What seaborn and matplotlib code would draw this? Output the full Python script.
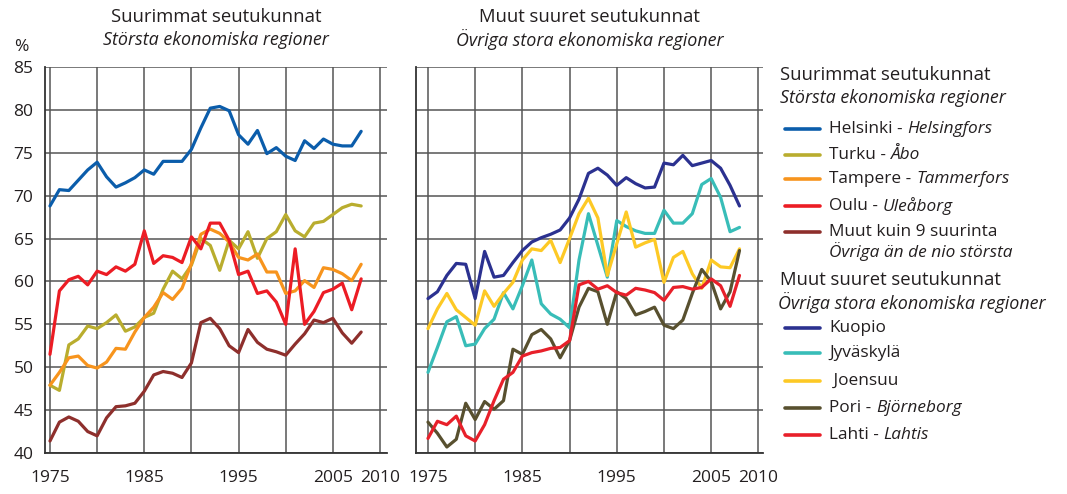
import numpy as np
import pandas as pd
import matplotlib.pyplot as plt
from matplotlib.lines import Line2D
import seaborn as sns

# Years 1975-2008, values in %
years = list(range(1975, 2009))

# Suurimmat seutukunnat
helsinki = [68.8, 70.7, 70.6, 71.8, 73.0, 73.9, 72.2, 71.0, 71.5, 72.1,
            73.0, 72.5, 74.0, 74.0, 74.0, 75.4, 77.9, 80.2, 80.4, 79.9,
            77.1, 76.0, 77.6, 74.9, 75.6, 74.6, 74.1, 76.4, 75.5, 76.6,
            76.0, 75.8, 75.8, 77.5]
turku = [47.9, 47.3, 52.6, 53.3, 54.8, 54.5, 55.2, 56.1, 54.2, 54.7,
         55.8, 56.3, 59.1, 61.2, 60.3, 61.9, 65.0, 64.2, 61.3, 64.8,
         63.8, 65.8, 62.7, 65.0, 65.8, 67.8, 65.9, 65.2, 66.8, 67.0,
         67.8, 68.6, 69.0, 68.8]
tampere = [47.9, 49.4, 51.1, 51.3, 50.2, 49.9, 50.6, 52.2, 52.1, 54.1,
           55.8, 57.0, 58.7, 57.9, 59.2, 62.1, 65.5, 66.1, 65.6, 64.6,
           62.8, 62.5, 63.2, 61.1, 61.1, 58.6, 58.9, 60.1, 59.3, 61.6,
           61.4, 60.9, 60.1, 62.0]
oulu = [51.5, 58.9, 60.2, 60.6, 59.6, 61.2, 60.8, 61.7, 61.2, 62.0,
        65.9, 62.1, 63.0, 62.8, 62.2, 65.2, 63.8, 66.8, 66.8, 64.8,
        60.8, 61.2, 58.6, 58.9, 57.6, 55.0, 63.8, 55.0, 56.5, 58.7,
        59.1, 59.8, 56.7, 60.3]
muut9 = [41.4, 43.6, 44.2, 43.7, 42.5, 42.0, 44.1, 45.4, 45.5, 45.8,
         47.2, 49.1, 49.5, 49.3, 48.8, 50.5, 55.2, 55.7, 54.5, 52.5,
         51.7, 54.4, 52.9, 52.1, 51.8, 51.4, 52.7, 53.9, 55.5, 55.2,
         55.7, 54.0, 52.8, 54.1]

# Muut suuret seutukunnat
kuopio = [58.0, 58.8, 60.7, 62.1, 62.0, 58.0, 63.5, 60.5, 60.7, 62.2,
          63.6, 64.6, 65.1, 65.5, 66.0, 67.4, 69.6, 72.6, 73.2, 72.4,
          71.2, 72.1, 71.4, 70.9, 71.0, 73.8, 73.6, 74.7, 73.5, 73.8,
          74.1, 73.2, 71.2, 68.8]
jyvaskyla = [49.4, 52.3, 55.3, 55.9, 52.5, 52.7, 54.5, 55.6, 58.7, 56.8,
             59.5, 62.5, 57.4, 56.2, 55.6, 54.6, 62.5, 67.9, 64.2, 60.5,
             67.1, 66.4, 65.9, 65.6, 65.6, 68.3, 66.8, 66.8, 67.9, 71.3,
             72.0, 69.8, 65.8, 66.3]
joensuu = [54.5, 56.8, 58.6, 56.7, 55.8, 54.9, 58.9, 57.1, 58.6, 59.9,
           62.5, 63.8, 63.6, 64.8, 62.2, 65.0, 67.9, 69.7, 67.4, 60.7,
           64.4, 68.1, 64.0, 64.5, 64.9, 59.9, 62.8, 63.5, 60.9, 59.2,
           62.5, 61.7, 61.6, 63.8]
pori = [43.6, 42.3, 40.7, 41.6, 45.8, 43.9, 46.0, 45.1, 46.1, 52.1,
        51.5, 53.8, 54.4, 53.3, 51.1, 53.1, 57.0, 59.2, 58.8, 55.0,
        58.8, 58.0, 56.1, 56.5, 57.0, 54.9, 54.5, 55.5, 58.6, 61.4,
        60.0, 56.8, 58.8, 63.6]
lahti = [41.7, 43.7, 43.3, 44.3, 42.0, 41.4, 43.3, 46.1, 48.6, 49.4,
         51.3, 51.7, 51.9, 52.2, 52.3, 53.1, 59.6, 60.0, 59.1, 59.5,
         58.7, 58.4, 59.2, 59.0, 58.7, 57.8, 59.3, 59.4, 59.1, 59.3,
         60.3, 59.5, 57.1, 60.7]

left_names = ['Helsinki', 'Turku', 'Tampere', 'Oulu', 'Muut kuin 9 suurinta']
left_values = [helsinki, turku, tampere, oulu, muut9]
left_colors = ['#0b5dab', '#b9ad2e', '#f7941d', '#ec1c24', '#8e2f2c']
left_labels = [('Helsinki -', 'Helsingfors'), ('Turku -', 'Åbo'),
               ('Tampere -', 'Tammerfors'), ('Oulu -', 'Uleåborg'),
               ('Muut kuin 9 suurinta', None)]

right_names = ['Kuopio', 'Jyväskylä', 'Joensuu', 'Pori', 'Lahti']
right_values = [kuopio, jyvaskyla, joensuu, pori, lahti]
right_colors = ['#2b3190', '#38bdb8', '#fdc925', '#58502f', '#e8202a']
right_labels = [('Kuopio', None), ('Jyväskylä', None), (' Joensuu', None),
                ('Pori -', 'Björneborg'), ('Lahti -', 'Lahtis')]

sns.set_theme(style='white')
plt.rcParams['font.family'] = ['Open Sans', 'DejaVu Sans']
TXT = '#231f20'
HEAD = 13.3      # normal heading size
HEAD_IT = 12.9   # italic heading size
ENTRY = 12.4     # legend entry size

W, H = 1067, 494
fig = plt.figure(figsize=(W / 100, H / 100), dpi=100)

# axes placed in pixel terms of the reference
ax1 = fig.add_axes([44.7 / W, 1 - 453 / H, (387 - 44.7) / W, (453 - 67) / H])
ax2 = fig.add_axes([415.7 / W, 1 - 453 / H, (763 - 415.7) / W, (453 - 67) / H])


def long_frame(names, values):
    return pd.DataFrame({
        'year': years * len(names),
        'value': [v for vals in values for v in vals],
        'region': np.repeat(names, len(years)),
    })


for ax, names, values, colors in [(ax1, left_names, left_values, left_colors),
                                  (ax2, right_names, right_values, right_colors)]:
    df = long_frame(names, values)
    sns.lineplot(data=df, x='year', y='value', hue='region', hue_order=names,
                 palette=dict(zip(names, colors)), lw=2.3, ax=ax, legend=False)
    ax.set_ylim(40, 85)
    ax.set_yticks(range(40, 90, 5))
    ax.set_xticks(range(1975, 2011, 5))
    ax.set_xticks(range(1975, 2011), minor=True)
    ax.set_xticklabels(['1975', '', '1985', '', '1995', '', '2005', '2010'])
    ax.grid(True, which='major', color='#555555', lw=1.1)
    ax.set_axisbelow(True)
    for s in ['top', 'right']:
        ax.spines[s].set_visible(False)
    for s in ['left', 'bottom']:
        ax.spines[s].set_color('#333333')
        ax.spines[s].set_linewidth(1.3)
    ax.tick_params(axis='x', which='both', direction='out', length=7.5, width=1,
                   color='#444444', pad=5, labelsize=12.5, labelcolor=TXT)
    ax.tick_params(axis='y', direction='out', length=7, width=1,
                   color='#444444', pad=1, labelsize=12.5, labelcolor=TXT)
    ax.set_xlabel('')
    ax.set_ylabel('')

ax1.set_xlim(1974.44, 2010.74)
ax2.set_xlim(1973.70, 2010.49)
ax2.tick_params(axis='y', labelleft=False, length=0)

# panel titles
ax1.text(0.5, 1.13, 'Suurimmat seutukunnat', transform=ax1.transAxes,
         ha='center', va='center', fontsize=HEAD, color=TXT)
ax1.text(0.5, 1.07, 'Största ekonomiska regioner', transform=ax1.transAxes,
         ha='center', va='center', fontsize=HEAD_IT, style='italic', color=TXT)
ax2.text(0.5, 1.13, 'Muut suuret seutukunnat', transform=ax2.transAxes,
         ha='center', va='center', fontsize=HEAD, color=TXT)
ax2.text(0.5, 1.07, 'Övriga stora ekonomiska regioner', transform=ax2.transAxes,
         ha='center', va='center', fontsize=HEAD_IT, style='italic', color=TXT)

fig.text(21 / W, 1 - 47 / H, '%', ha='center', va='center', fontsize=12.5, color=TXT)


# legend built by hand (two groups with headings)
def fy(y):
    return 1 - y / H


def legend_entry(y, color, label, italic):
    fig.add_artist(Line2D([785 / W, 820 / W], [fy(y), fy(y)], color=color,
                          lw=2.6, transform=fig.transFigure))
    t = fig.text(829 / W, fy(y), label, ha='left', va='center',
                 fontsize=ENTRY, color=TXT)
    if italic:
        ax1.annotate(italic, xy=(1, 0.5), xycoords=t, xytext=(3.5, 0),
                     textcoords='offset points', ha='left', va='center',
                     fontsize=ENTRY, style='italic', color=TXT,
                     annotation_clip=False)
    return t


fig.text(780 / W, fy(75), 'Suurimmat seutukunnat', ha='left', va='center',
         fontsize=HEAD, color=TXT)
fig.text(780 / W, fy(98), 'Största ekonomiska regioner', ha='left', va='center',
         fontsize=HEAD_IT, style='italic', color=TXT)
left_y = [129, 155, 179, 206, 232]
for y, c, (lab, it) in zip(left_y, left_colors, left_labels):
    legend_entry(y, c, lab, it)
fig.text(829 / W, fy(252), 'Övriga än de nio största', ha='left', va='center',
         fontsize=ENTRY, style='italic', color=TXT)

fig.text(780 / W, fy(280), 'Muut suuret seutukunnat', ha='left', va='center',
         fontsize=HEAD, color=TXT)
fig.text(778 / W, fy(302), 'Övriga stora ekonomiska regioner', ha='left',
         va='center', fontsize=HEAD_IT, style='italic', color=TXT)
right_y = [328, 353, 381, 408, 435]
for y, c, (lab, it) in zip(right_y, right_colors, right_labels):
    legend_entry(y, c, lab, it)

fig.savefig('out.png', dpi=100)
